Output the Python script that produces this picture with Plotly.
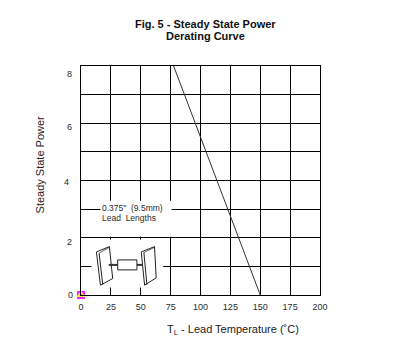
import plotly.graph_objects as go

# Data
temperature = [77.5, 150]
power = [8, 0]
x_ticks = [0, 25, 50, 75, 100, 125, 150, 175, 200]
y_labels = ["0", "2", "4", "6", "8"]
y_label_pos = [0, 1.86, 3.95, 5.87, 7.72]
y_label_dx = [-6, -7, -10, -7, -7]
title_lines = ["Fig. 5 - Steady State Power", "Derating Curve"]
note_lines = ['0.375"  (9.5mm)', "Lead  Lengths"]

# Page geometry (the page adds an 8 px margin round the figure)
PAGE = 8
W, H = 400, 346
L, R, T, B = 80.5, 320.5, 66, 295.5
INK = "#000000"
TXT = "#2b2b2b"
FONT = "Liberation Sans, Arial, sans-serif"


def px(x):
    return (x - L) / (R - L)


def py(y):
    return (B - y) / (B - T)


def rect(x0, y0, x1, y1):
    return dict(type="rect", xref="paper", yref="paper", layer="above",
                x0=px(x0), x1=px(x1), y0=py(y0), y1=py(y1),
                fillcolor="white", line=dict(color="rgba(0,0,0,0)", width=0))


def poly(points, fill="white", line="#222222", width=1):
    # points given in 3x crop coordinates of the lead diagram
    coords = [(px(85 + a / 3), py(235 + b / 3)) for a, b in points]
    path = "M " + " L ".join(f"{a:.5f} {b:.5f}" for a, b in coords)
    if fill != "none":
        path += " Z"
    return dict(type="path", xref="paper", yref="paper", layer="above", path=path,
                fillcolor=fill if fill != "none" else "rgba(0,0,0,0)",
                line=dict(color=line, width=width))


shapes = [
    rect(100, 201, 171.5, 237),
    rect(91, 240, 163, 288),
    poly([(33, 52), (72, 36), (82, 132), (45, 152)]),
    poly([(41, 56), (52, 150)], fill="none"),
    poly([(41, 56), (72, 38)], fill="none", width=0.7),
    poly([(168, 52), (208, 36), (213, 130), (178, 152)]),
    poly([(176, 54), (185, 150)], fill="none"),
    poly([(176, 54), (208, 38)], fill="none", width=0.7),
    poly([(70, 91), (97, 91)], fill="none", line="#333333", width=2),
    poly([(155, 91), (172, 91)], fill="none", line="#333333", width=2),
    poly([(97, 76), (155, 76), (155, 106), (97, 106)], width=1),
]

fig = go.Figure()
fig.add_trace(go.Scatter(x=temperature, y=power, mode="lines",
                         line=dict(color="#333333", width=1), showlegend=False, hoverinfo="skip"))
marker_layers = [("square", 8, "#ff22ff"), ("triangle-up", 8, "#eeee44"), ("circle", 2.5, "#33dddd")]
for symbol, size, color in marker_layers:
    fig.add_trace(go.Scatter(x=[0], y=[0], mode="markers", cliponaxis=False,
                             marker=dict(symbol=symbol, size=size, color=color, line=dict(width=0)),
                             showlegend=False, hoverinfo="skip"))


def note(x, y, text, size, color, anchor="center", bold=False, angle=0):
    return dict(x=px(x), y=py(y), xref="paper", yref="paper", showarrow=False, xanchor=anchor, yanchor="middle",
                text=f"<b>{text}</b>" if bold else text, textangle=angle,
                font=dict(family=FONT, size=size, color=color))


annotations = [
    note(206, 24, title_lines[0], 11, "#111111", bold=True),
    note(206, 36, title_lines[1], 11, "#111111", bold=True),
    note(233, 330.5, "T<sub>L</sub> - Lead Temperature (˚C)", 11, "#222222"),
    note(39, 165, "Steady State Power", 11, "#331a1a", angle=-90),
    note(100, 208, note_lines[0], 8.5, TXT, anchor="left"),
    note(100, 218, note_lines[1], 8.5, TXT, anchor="left"),
]
for lab, pos, dx in zip(y_labels, y_label_pos, y_label_dx):
    annotations.append(dict(x=0, y=pos, xref="x", yref="y", text=lab, showarrow=False, xanchor="right",
                            yanchor="middle", xshift=dx, font=dict(family=FONT, size=9, color=TXT)))

fig.update_layout(
    width=W, height=H, autosize=False,
    margin=dict(l=L - PAGE, r=W - (R - PAGE), t=T - PAGE, b=H - (B - PAGE), pad=0),
    paper_bgcolor="white", plot_bgcolor="white",
    shapes=shapes, annotations=annotations,
    xaxis=dict(range=[0, 200], tickvals=x_ticks, showgrid=True, gridcolor=INK, gridwidth=1.2,
               showline=True, linecolor=INK, linewidth=1.2, mirror=True, zeroline=False, ticks="outside",
               ticklen=3, tickcolor="rgba(0,0,0,0)", tickfont=dict(family=FONT, size=9, color=TXT)),
    yaxis=dict(range=[0, 8], dtick=1, showgrid=True, gridcolor=INK, gridwidth=1.2,
               showline=True, linecolor=INK, linewidth=1.2, mirror=True, zeroline=False, ticks="",
               showticklabels=False),
)
fig.write_html("out.html", config=dict(displayModeBar=False))
